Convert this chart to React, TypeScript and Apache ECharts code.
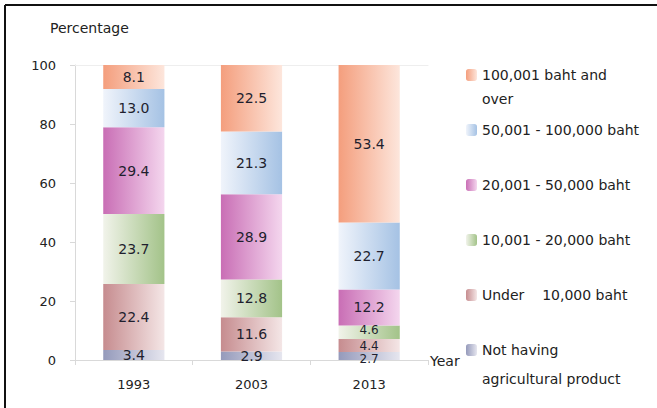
import React, { useEffect, useRef } from "react";
import * as echarts from "echarts";

const years = ["1993", "2003", "2013"];
const seriesNames = [
  "Not having",
  "Under    10,000 baht",
  "10,001 - 20,000 baht",
  "20,001 - 50,000 baht",
  "50,001 - 100,000 baht",
  "100,001 baht and",
];
const notHaving = [3.4, 2.9, 2.7];
const under10k = [22.4, 11.6, 4.4];
const from10kTo20k = [23.7, 12.8, 4.6];
const from20kTo50k = [29.4, 28.9, 12.2];
const from50kTo100k = [13.0, 21.3, 22.7];
const over100k = [8.1, 22.5, 53.4];
const yTicks = [0, 20, 40, 60, 80, 100];

const seriesValues = [notHaving, under10k, from10kTo20k, from20kTo50k, from50kTo100k, over100k];
const gradientStops: [string, string][] = [
  ["#959abb", "#e6e6ef"],
  ["#c68c8f", "#f4e6e6"],
  ["#f1f3ea", "#a3c389"],
  ["#c96eb5", "#f4d6ee"],
  ["#f0f4fb", "#a5c2e4"],
  ["#f49e7d", "#fde6dc"],
];

const FONT = "'DejaVu Sans', sans-serif";

function small(v: number) {
  return v < 5;
}

// crowded small labels: shift the lowest down and the highest up a little
function crowdedLabel(si: number, ci: number) {
  const v = seriesValues[si][ci];
  if (!small(v)) return null;
  const below = si > 0 ? seriesValues[si - 1][ci] : 99;
  const above = si < seriesValues.length - 1 ? seriesValues[si + 1][ci] : 99;
  if (!small(below) && !small(above)) return null;
  let dy = 0;
  if (!small(below)) dy = 3;
  else if (!small(above)) dy = -2;
  return { fontSize: 12, lineHeight: 11, offset: [0, dy] };
}

export default function App() {
  const ref = useRef<HTMLDivElement>(null);
  useEffect(() => {
    if (!ref.current) return;
    const chart = echarts.init(ref.current, undefined, { renderer: "svg" });
    const series = seriesValues.map((vals, i) => ({
      name: seriesNames[i],
      type: "bar",
      stack: "total",
      barWidth: "52%",
      data: vals.map((v, ci) => {
        const lab = crowdedLabel(i, ci);
        return lab ? { value: v, label: lab } : v;
      }),
      itemStyle: {
        color: new echarts.graphic.LinearGradient(0, 0, 1, 0, [
          { offset: 0, color: gradientStops[i][0] },
          { offset: 1, color: gradientStops[i][1] },
        ]),
      },
      label: {
        show: true,
        position: "inside",
        formatter: (p: any) => Number(p.value).toFixed(1),
        color: "#1f1f2e",
        fontFamily: FONT,
        fontSize: 14,
        lineHeight: 12,
      },
    }));
    chart.setOption({
      animation: false,
      backgroundColor: "#ffffff",
      title: {
        text: "Percentage",
        left: 45,
        top: 16,
        textStyle: { fontFamily: FONT, fontSize: 14, fontWeight: "normal", color: "#222" },
      },
      legend: {
        orient: "vertical",
        left: 461,
        top: 62,
        itemWidth: 11,
        itemHeight: 12,
        itemGap: 39,
        data: [...seriesNames].reverse(),
        textStyle: { fontFamily: FONT, fontSize: 14, color: "#222", lineHeight: 16 },
        selectedMode: false,
      },
      grid: { left: 75, right: 229, top: 65, bottom: 48 },
      xAxis: [
        {
          type: "category",
          data: years,
          name: "Year",
          nameLocation: "end",
          nameGap: 2,
          nameTextStyle: { fontFamily: FONT, fontSize: 14, color: "#222", verticalAlign: "top", padding: [-6, 0, 0, 0] },
          axisLine: { lineStyle: { color: "#d9d9d9" } },
          axisTick: { show: true, length: 5, lineStyle: { color: "#d9d9d9" } },
          axisLabel: { margin: 18, fontFamily: FONT, fontSize: 13, color: "#222" },
        },
        {
          type: "category",
          data: years,
          position: "top",
          axisLine: { show: true, lineStyle: { color: "#eeeeee" } },
          axisTick: { show: false },
          axisLabel: { show: false },
        },
      ],
      yAxis: {
        type: "value",
        min: 0,
        max: 100,
        interval: 20,
        axisLine: { show: true, lineStyle: { color: "#d9d9d9" } },
        axisTick: { show: true, length: 5, lineStyle: { color: "#d9d9d9" } },
        splitLine: { show: false },
        axisLabel: {
          margin: 19,
          fontFamily: FONT,
          fontSize: 13,
          color: "#222",
          formatter: (v: number) => (yTicks.includes(v) ? String(v) : ""),
        },
      },
      graphic: [
        {
          type: "line",
          shape: { x1: 5, y1: 5, x2: 657, y2: 5 },
          style: { stroke: "#111", lineWidth: 2 },
        },
        {
          type: "line",
          shape: { x1: 5, y1: 5, x2: 5, y2: 408 },
          style: { stroke: "#111", lineWidth: 2 },
        },
        {
          type: "text",
          left: 482,
          top: 92,
          style: { text: "over", fontFamily: FONT, fontSize: 14, fill: "#222" },
        },
        {
          type: "text",
          left: 482,
          top: 372,
          style: { text: "agricultural product", fontFamily: FONT, fontSize: 14, fill: "#222" },
        },
      ],
      series,
    });
    return () => chart.dispose();
  }, []);
  return (
    <div
      ref={ref}
      style={{ position: "fixed", left: 0, top: 0, width: 657, height: 408 }}
    />
  );
}
